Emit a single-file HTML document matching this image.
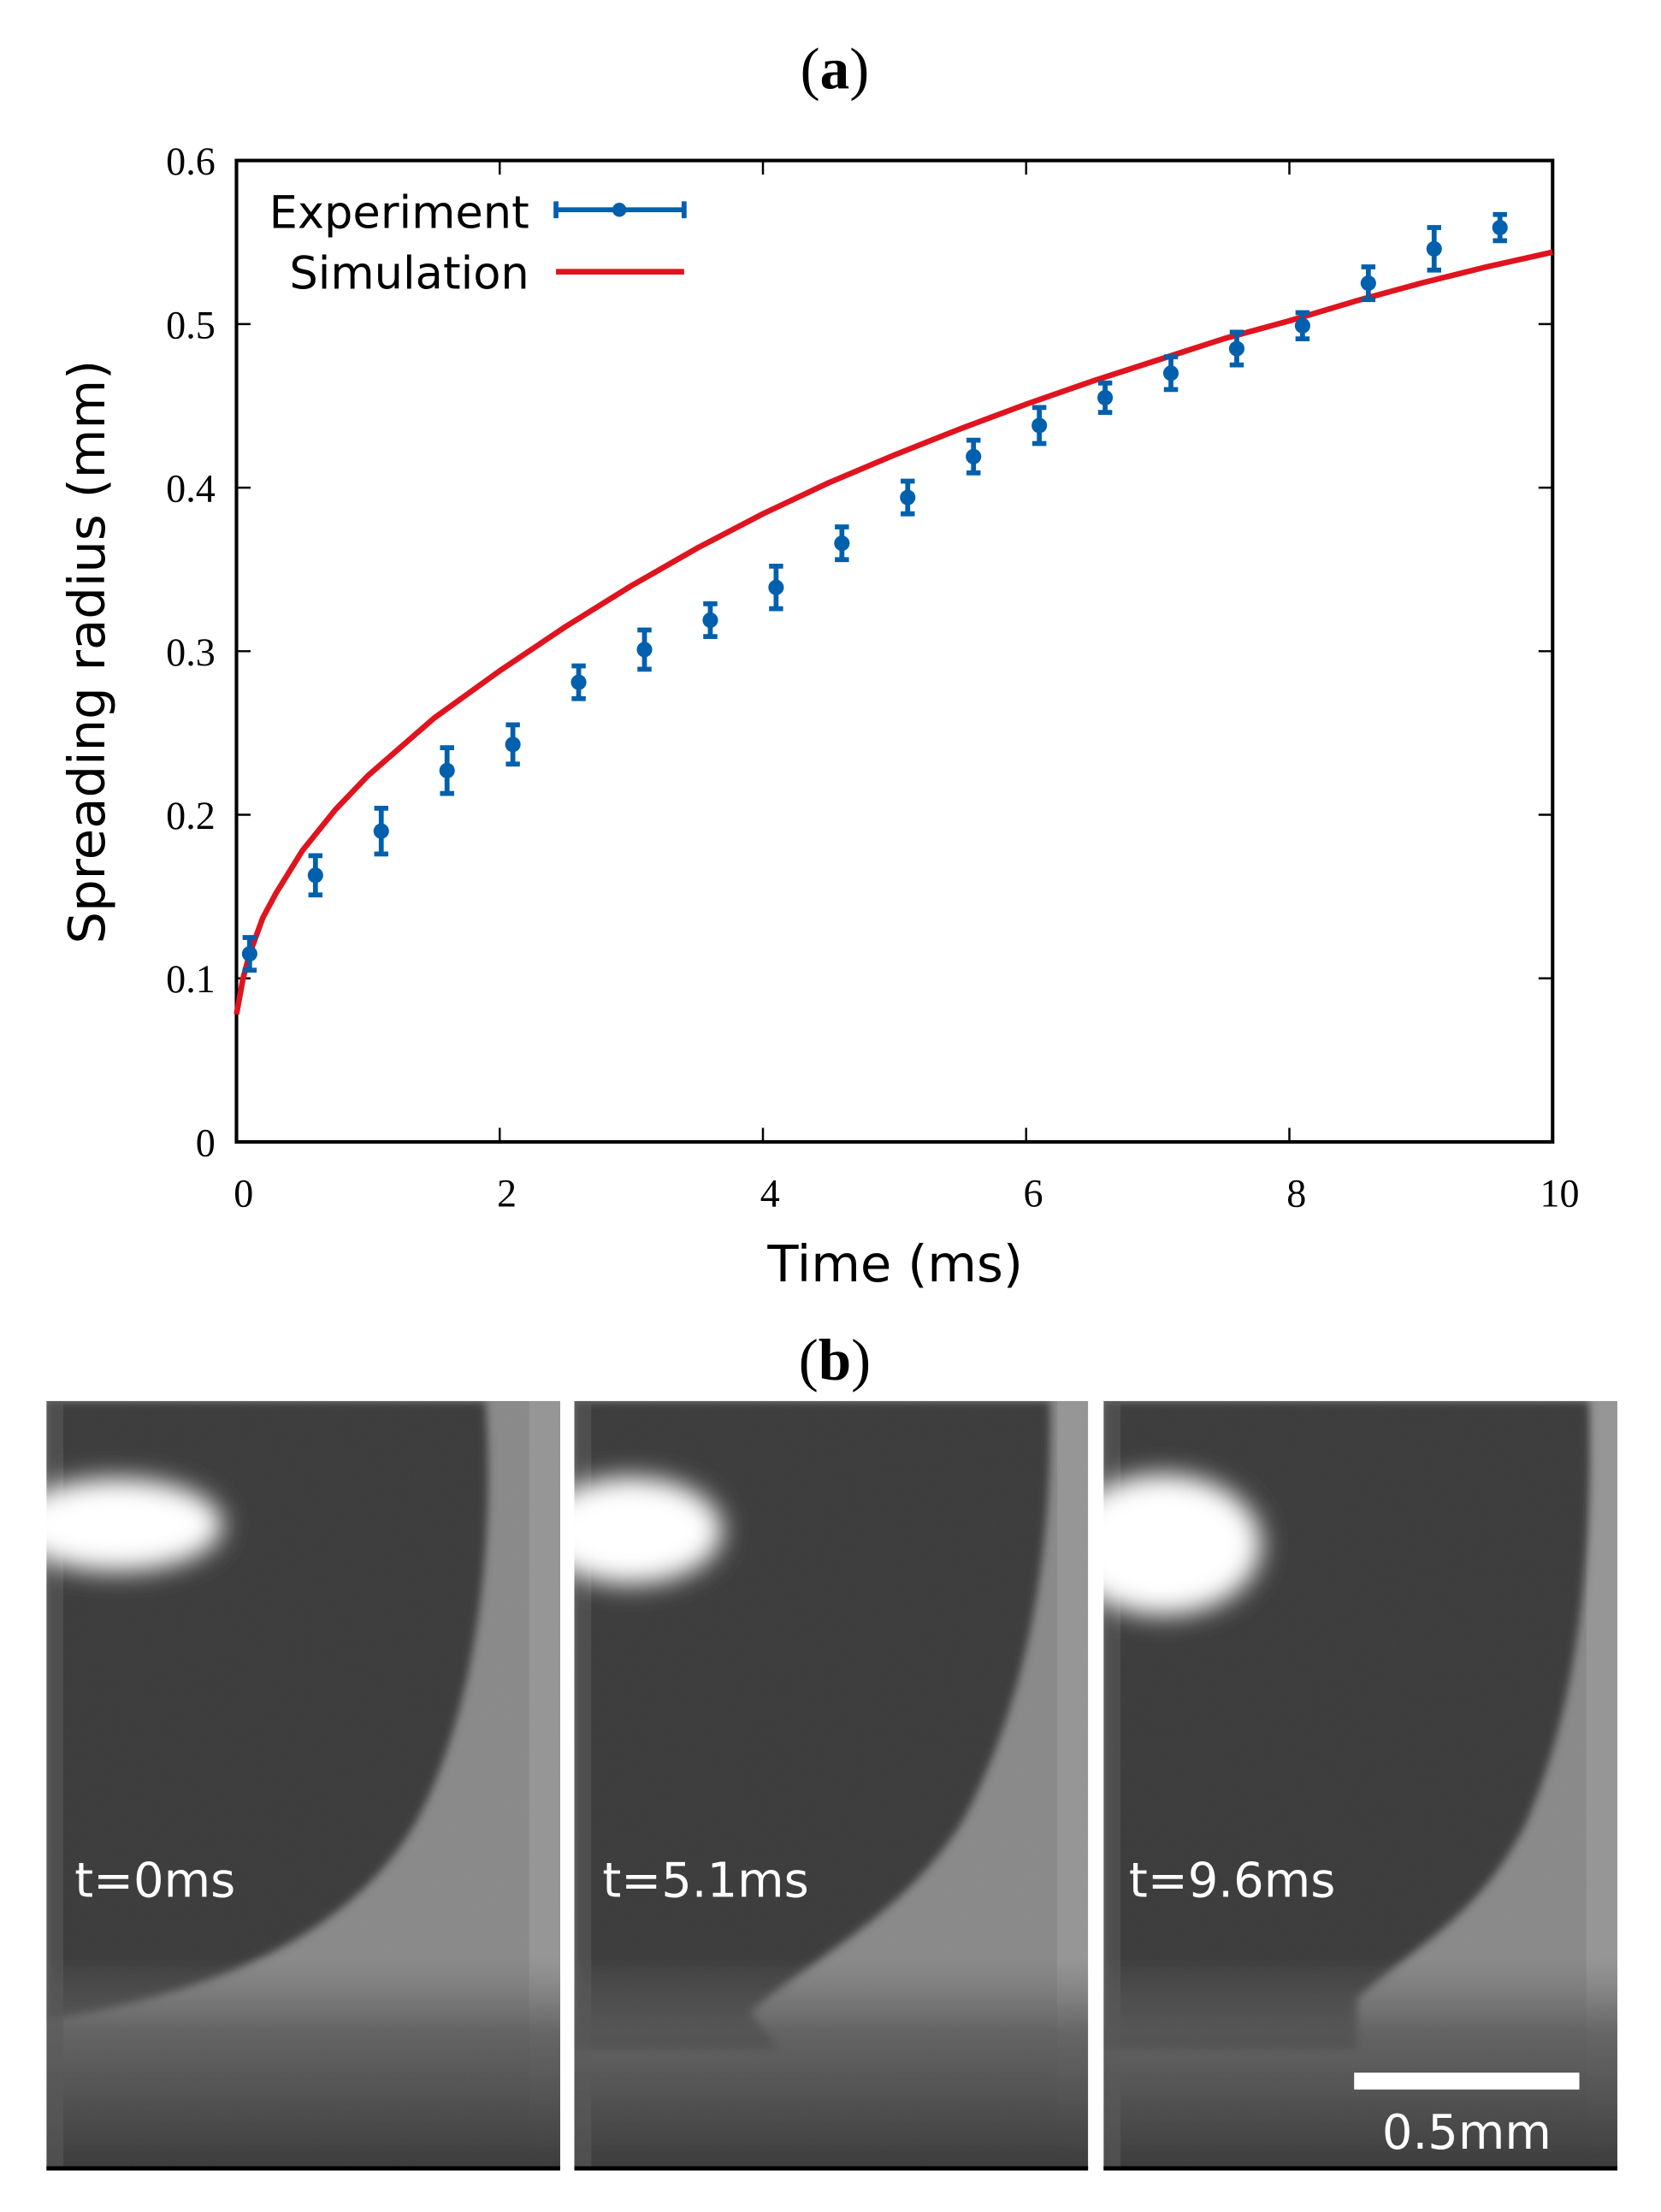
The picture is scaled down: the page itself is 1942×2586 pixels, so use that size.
<!DOCTYPE html>
<html><head><meta charset="utf-8"><style>
html,body{margin:0;padding:0;background:#fff;}
svg{display:block;}
</style></head><body>
<svg id="fig" width="1942" height="2586" viewBox="0 0 1180 1571" preserveAspectRatio="none" xmlns="http://www.w3.org/2000/svg">
<defs>
<clipPath id="pclip"><rect x="0" y="0" width="365" height="546"/></clipPath>
<filter id="blur" x="-50%" y="-50%" width="200%" height="200%"><feGaussianBlur stdDeviation="9"/></filter>
<filter id="blur2" x="-20%" y="-20%" width="140%" height="140%"><feGaussianBlur stdDeviation="3"/></filter>
<filter id="noise" x="0" y="0" width="100%" height="100%">
<feTurbulence type="fractalNoise" baseFrequency="0.9" numOctaves="1" seed="3" result="n"/>
<feColorMatrix type="matrix" values="0 0 0 0 0.5  0 0 0 0 0.5  0 0 0 0 0.5  0 0 0 0.35 0" in="n" result="g"/>
<feComposite in="g" in2="SourceGraphic" operator="in" result="gn"/>
<feBlend in="SourceGraphic" in2="gn" mode="overlay"/>
</filter>
<linearGradient id="bottomGrad" x1="0" y1="0" x2="0" y2="1">
<stop offset="0" stop-color="#6e6e6e" stop-opacity="0"/>
<stop offset="0.35" stop-color="#5a5a5a" stop-opacity="0.8"/>
<stop offset="1" stop-color="#3c3c3c" stop-opacity="1"/>
</linearGradient>
</defs>

<text x="593" y="63" text-anchor="middle" font-family="Liberation Serif, serif" font-size="42">(<tspan font-weight="bold">a</tspan>)</text>

<g id="chart"></g>

<text x="593" y="980" text-anchor="middle" font-family="Liberation Serif, serif" font-size="42">(<tspan font-weight="bold">b</tspan>)</text>

<g id="photos"></g>
</svg>
<script>
// ---- chart data ----
const expTime = [0.1,0.6,1.1,1.6,2.1,2.6,3.1,3.6,4.1,4.6,5.1,5.6,6.1,6.6,7.1,7.6,8.1,8.6,9.1,9.6];
const expRadius = [0.115,0.163,0.190,0.227,0.243,0.281,0.301,0.319,0.339,0.366,0.394,0.419,0.438,0.455,0.470,0.485,0.499,0.525,0.546,0.559];
const expError = [0.010,0.012,0.014,0.014,0.012,0.010,0.012,0.010,0.013,0.010,0.010,0.010,0.011,0.009,0.010,0.010,0.008,0.010,0.013,0.008];
const simTime = [0,0.05,0.1,0.2,0.3,0.5,0.75,1,1.5,2,2.5,3,3.5,4,4.5,5,5.5,6,6.5,7,7.5,8,8.5,9,9.5,10];
const simRadius = [0.078,0.100,0.115,0.137,0.152,0.178,0.203,0.224,0.259,0.288,0.315,0.340,0.363,0.384,0.403,0.420,0.436,0.451,0.465,0.478,0.491,0.502,0.514,0.525,0.535,0.544];
const xTicks = [0,2,4,6,8,10];
const xTickLabels = ["0","2","4","6","8","10"];
const yTicks = [0,0.1,0.2,0.3,0.4,0.5,0.6];
const yTickLabels = ["0","0.1","0.2","0.3","0.4","0.5","0.6"];

const NS = "http://www.w3.org/2000/svg";
const L=168,R=1103,T=114,B=811;
const xs = v => L + (v-0)/(10-0)*(R-L);
const ys = v => B - (v-0)/(0.6-0)*(B-T);
function mk(tag, attrs, parent){const e=document.createElementNS(NS,tag);for(const k in attrs)e.setAttribute(k,attrs[k]);parent.appendChild(e);return e;}
const chart=document.getElementById('chart');
const BLUE="#0060ad", RED="#e0141e";

xTicks.forEach((t,i)=>{
  const x=xs(t);
  const a=mk('line',{x1:x,y1:B,x2:x,y2:B-10,stroke:'#000','stroke-width':1.5},chart);
  
  
  const b=mk('line',{x1:x,y1:T,x2:x,y2:T+10,stroke:'#000','stroke-width':1.5},chart);
  
  
  const tx=mk('text',{x:x+5,y:857,'text-anchor':'middle','font-family':'Liberation Serif, serif','font-size':28},chart);
  tx.textContent=xTickLabels[i];
  
  
});
yTicks.forEach((t,i)=>{
  const y=ys(t);
  const a=mk('line',{x1:L,y1:y,x2:L+10,y2:y,stroke:'#000','stroke-width':1.5},chart);
  
  
  const b=mk('line',{x1:R,y1:y,x2:R-10,y2:y,stroke:'#000','stroke-width':1.5},chart);
  
  
  const tx=mk('text',{x:153,y:y+10,'text-anchor':'end','font-family':'Liberation Serif, serif','font-size':28},chart);
  tx.textContent=yTickLabels[i];
  
  
});
const frame=mk('rect',{x:L,y:T,width:R-L,height:B-T,fill:'none',stroke:'#000','stroke-width':2.5},chart);



const sim=mk('polyline',{points:simTime.map((t,i)=>xs(t)+','+ys(simRadius[i])).join(' '),fill:'none',stroke:RED,'stroke-width':4,'stroke-linejoin':'round'},chart);



expTime.forEach((t,i)=>{
  const g=mk('g',{},chart);
  
  
  const x=xs(t), y1=ys(expRadius[i]+expError[i]), y2=ys(expRadius[i]-expError[i]);
  mk('line',{x1:x,y1:y1,x2:x,y2:y2,stroke:BLUE,'stroke-width':3.5},g);
  mk('line',{x1:x-5,y1:y1,x2:x+5,y2:y1,stroke:BLUE,'stroke-width':3.5},g);
  mk('line',{x1:x-5,y1:y2,x2:x+5,y2:y2,stroke:BLUE,'stroke-width':3.5},g);
  mk('circle',{cx:x,cy:ys(expRadius[i]),r:5.5,fill:BLUE},g);
});

const lg=mk('g',{},chart);


let t1=mk('text',{x:376,y:162,'text-anchor':'end','font-family':'DejaVu Sans, sans-serif','font-size':32},lg);
t1.textContent='Experiment';


mk('line',{x1:395,y1:149,x2:486,y2:149,stroke:BLUE,'stroke-width':3.5},lg);
mk('line',{x1:395,y1:143,x2:395,y2:155,stroke:BLUE,'stroke-width':3.5},lg);
mk('line',{x1:486,y1:143,x2:486,y2:155,stroke:BLUE,'stroke-width':3.5},lg);
mk('circle',{cx:440,cy:149,r:5,fill:BLUE},lg);
let t2=mk('text',{x:376,y:205,'text-anchor':'end','font-family':'DejaVu Sans, sans-serif','font-size':32},lg);
t2.textContent='Simulation';


mk('line',{x1:395,y1:193,x2:486,y2:193,stroke:RED,'stroke-width':4},lg);

let xt=mk('text',{x:636,y:910,'text-anchor':'middle','font-family':'DejaVu Sans, sans-serif','font-size':36},chart);
xt.textContent='Time (ms)';


let yt=mk('text',{x:0,y:0,'text-anchor':'middle','font-family':'DejaVu Sans, sans-serif','font-size':36,transform:'translate(74,463) rotate(-90)'},chart);
yt.textContent='Spreading radius (mm)';



// ---- photos ----
const photos=document.getElementById('photos');
const panels=[
 {x:33,label:'t=0ms',drop:'M0,0 L312,0 C320,120 300,230 262,300 C215,380 120,420 0,440 Z',lx:20,blob:[50,88,75,33]},
 {x:408,label:'t=5.1ms',drop:'M0,0 L338,0 C340,120 318,220 275,300 C230,370 160,400 125,435 L145,460 L0,460 Z',lx:20,blob:[40,92,65,38]},
 {x:784,label:'t=9.6ms',drop:'M0,0 L345,0 C348,120 335,220 300,300 C265,370 215,390 180,425 L180,460 L0,460 Z',lx:18,blob:[42,102,70,50]}
];
panels.forEach((p,i)=>{
  const g=mk('g',{transform:'translate('+p.x+',995)'},photos);
  
  
  const inner=mk('g',{'clip-path':'url(#pclip)'},g);
  const inner2=mk('g',{filter:'url(#noise)'},inner);
  mk('rect',{x:0,y:0,width:365,height:545,fill:'#8a8a8a'},inner2);
  mk('rect',{x:343,y:0,width:22,height:545,fill:'#969696'},inner2);
  mk('path',{d:p.drop,fill:'#3e3e3e',filter:'url(#blur2)'},inner2);
  mk('rect',{x:0,y:395,width:365,height:150,fill:'url(#bottomGrad)'},inner2);
  mk('rect',{x:0,y:0,width:12,height:545,fill:'#5a5a5a','fill-opacity':0.6},inner2);
  mk('ellipse',{cx:p.blob[0],cy:p.blob[1],rx:p.blob[2],ry:p.blob[3],fill:'#fff',filter:'url(#blur)'},inner2);
  mk('line',{x1:0,y1:545,x2:365,y2:545,stroke:'#000','stroke-width':3},g);
  const lt=mk('text',{x:p.lx,y:352,'font-family':'DejaVu Sans, sans-serif','font-size':34,fill:'#fff'},g);
  lt.textContent=p.label;
  
  
  if(i===2){
    const sb=mk('rect',{x:178,y:477,width:160,height:12,fill:'#fff'},g);
    
    
    const st=mk('text',{x:258,y:531,'text-anchor':'middle','font-family':'DejaVu Sans, sans-serif','font-size':34,fill:'#fff'},g);
    st.textContent='0.5mm';
    
    
  }
});
</script>
</body></html>
